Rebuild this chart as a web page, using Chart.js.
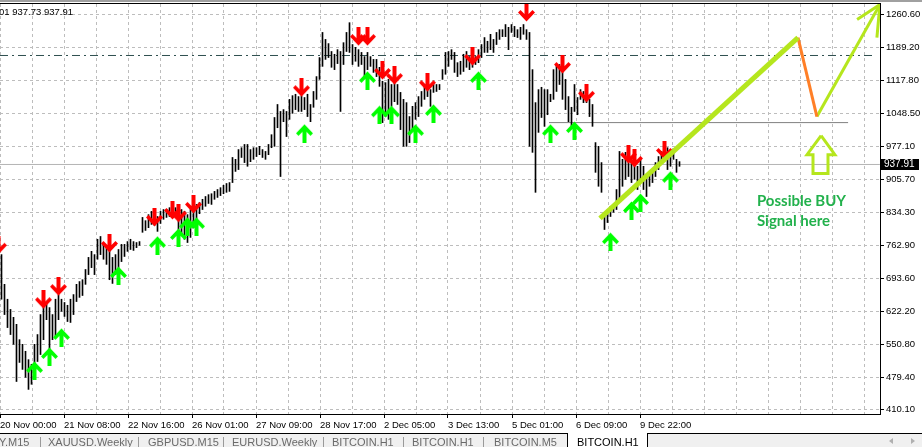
<!DOCTYPE html>
<html>
<head>
<meta charset="utf-8">
<script src="https://cdn.jsdelivr.net/npm/chart.js@4.4.0/dist/chart.umd.min.js"></script>
<style>
  html, body { margin: 0; padding: 0; background: #fff; }
  #wrap { width: 922px; height: 447px; }
</style>
</head>
<body>
<div id="wrap"><canvas id="chart" width="922" height="447"></canvas></div>
<script>
// BITCOIN,H1 bars (price high / low per bar, left to right)
const highs = [
  744, 680, 648, 626, 609, 594, 561, 551, 536, 518,
  508, 551, 572, 615, 637, 641, 630, 615, 648, 658,
  648, 641, 635, 648, 658, 680, 686, 690, 712, 738,
  751, 744, 777, 783, 766, 764, 755, 738, 744, 755,
  766, 766, 772, 777, 772, 770, 772, 824, 817, 830,
  837, 832, 826, 837, 841, 841, 845, 841, 845, 852,
  841, 837, 830, 841, 845, 852, 856, 863, 869, 873,
  875, 880, 884, 888, 893, 897, 899, 953, 949, 970,
  974, 981, 981, 970, 974, 974, 977, 970, 966, 981,
  1002, 1039, 1067, 1052, 1056, 1052, 1078, 1086, 1089, 1084,
  1086, 1082, 1089, 1067, 1095, 1127, 1168, 1222, 1207, 1198,
  1181, 1175, 1185, 1181, 1200, 1222, 1243, 1196, 1190, 1185,
  1179, 1170, 1179, 1170, 1164, 1164, 1147, 1117, 1114, 1121,
  1110, 1117, 1110, 1093, 1078, 1071, 1041, 1063, 1071, 1084,
  1095, 1110, 1110, 1099, 1110, 1110, 1110, 1142, 1179, 1181,
  1185, 1179, 1157, 1160, 1175, 1181, 1170, 1164, 1170, 1185,
  1196, 1211, 1203, 1218, 1207, 1222, 1228, 1228, 1239, 1233,
  1239, 1235, 1228, 1233, 1239, 1228, 1222, 1142, 1071, 1099,
  1104, 1099, 1099, 1089, 1142, 1153, 1153, 1147, 1121, 1084,
  1061, 1110, 1082, 1099, 1095, 1093, 1078, 1067, 985, 977,
  942, 835, 830, 848, 852, 884, 966, 949, 964, 955,
  949, 942, 934, 949, 934, 912, 921, 927, 942, 955,
  966, 977, 974, 964, 970, 949, 944
];
const lows = [
  648, 615, 587, 572, 551, 471, 512, 497, 480, 454,
  465, 486, 514, 529, 561, 604, 540, 561, 566, 604,
  622, 611, 600, 598, 615, 643, 652, 656, 680, 701,
  716, 701, 734, 744, 734, 723, 690, 682, 701, 716,
  729, 740, 751, 755, 753, 759, 764, 792, 796, 802,
  809, 807, 794, 811, 820, 824, 826, 830, 828, 798,
  787, 777, 770, 781, 802, 820, 832, 841, 848, 854,
  852, 863, 867, 871, 875, 878, 880, 899, 923, 927,
  953, 942, 934, 944, 949, 955, 959, 953, 949, 959,
  974, 977, 1017, 912, 1030, 998, 1035, 1048, 1056, 1052,
  1052, 1056, 1041, 1030, 1061, 1078, 1121, 1149, 1164, 1168,
  1147, 1142, 1155, 1052, 1153, 1181, 1179, 1153, 1160, 1149,
  1153, 1125, 1142, 1149, 1136, 1127, 1106, 1028, 1041, 1035,
  1063, 1073, 1067, 1013, 977, 977, 985, 1013, 1035, 1041,
  1063, 1078, 1084, 1063, 1093, 1095, 1099, 1121, 1132, 1149,
  1164, 1136, 1127, 1132, 1138, 1147, 1142, 1147, 1153, 1157,
  1168, 1179, 1179, 1185, 1179, 1196, 1207, 1213, 1213, 1185,
  1222, 1213, 1211, 1207, 1218, 1207, 977, 964, 878, 1007,
  1039, 1020, 1045, 1073, 1078, 1095, 1110, 1078, 1056, 1030,
  1020, 1052, 1045, 1078, 1071, 1071, 1041, 1020, 921, 891,
  878, 798, 813, 826, 835, 841, 863, 891, 906, 912,
  899, 906, 884, 906, 884, 869, 891, 899, 912, 927,
  942, 949, 927, 934, 949, 921, 934
];

// signal arrows: bar index and price of the arrow centre
const sellBars = [-1, 14, 19, 36, 51, 57, 59, 64, 100, 119, 122, 127, 131, 142, 157, 175, 187, 195, 209, 211, 221];
const sellPrices = [764, 647, 675, 768, 824, 839, 833, 852, 1103, 1213, 1213, 1140, 1129, 1114, 1170, 1265, 1153, 1091, 959, 951, 968];
const buyBars = [11, 16, 20, 39, 52, 59, 62, 65, 101, 122, 126, 130, 138, 144, 159, 183, 191, 203, 210, 213, 223];
const buyPrices = [495, 525, 566, 699, 764, 781, 805, 805, 1005, 1119, 1045, 1045, 1005, 1048, 1119, 1005, 1011, 772, 839, 856, 904];

// axes
const timeLabels = ['20 Nov 00:00', '21 Nov 08:00', '22 Nov 16:00', '26 Nov 01:00', '27 Nov 09:00', '28 Nov 17:00',
  '2 Dec 05:00', '3 Dec 13:00', '5 Dec 01:00', '6 Dec 09:00', '9 Dec 22:00'];
const priceTicks = [410.10, 479.40, 550.80, 622.20, 693.60, 762.90, 834.30, 905.70, 977.10, 1048.50, 1117.80, 1189.20, 1260.60];
const barsPerGrid = 32 / 3;
const lastPrice = 937.91;

// drawn objects
const resistanceLevel = 1172.4;
const supportLevel = 1028;
const supportFrom = 182.5, supportTo = 282.2;
const trendX = [199.5, 265.5], trendY = [822, 1211];
const pullX = [265.5, 271.8], pullY = [1211, 1041];
const rallyX = [271.8, 292.8], rallyY = [1041, 1282];
const headX = [285.2, 292.8, 291.8], headY = [1250, 1282, 1211];
const hintX = [273.2, 277.8, 275.5, 275.5, 270.5, 270.5, 268.5, 273.2];
const hintY = [1000, 959, 959, 918.5, 918.5, 959, 959, 1000];
const noteLines = ['Possible BUY', 'Signal here'];
const noteX = 251.8, noteY = [848, 805];

const tabs = ['Y.M15', 'XAUUSD.Weekly', 'GBPUSD.M15', 'EURUSD.Weekly', 'BITCOIN.H1', 'BITCOIN.H1', 'BITCOIN.M5'];
const tabX = [-1, 48, 148, 232, 332, 412, 494];
const tabSep = [40, 138, 223, 323, 403, 483];

const LIME = '#b5e61d';
const AXIS_FONT = '"Liberation Sans", Arial, sans-serif';

function makeArrow(color, down) {
    const c = document.createElement('canvas');
    c.width = 17; c.height = 19;
    const g = c.getContext('2d');
    const pts = [[6.5, 0], [10.5, 0], [10.5, 11], [14.5, 7], [17, 9.5], [8.5, 18.5], [0, 9.5], [2.5, 7], [6.5, 11]];
    g.beginPath();
    pts.forEach(([x, y], k) => {
        const yy = down ? y : 19 - y;
        if (k) g.lineTo(x, yy); else g.moveTo(x, yy);
    });
    g.closePath();
    g.fillStyle = color;
    g.fill();
    return c;
}

const xy = (xs, ys) => xs.map((x, i) => ({ x: x, y: ys[i] }));

const xGrid = [];
for (let k = 0; k <= 27; k++) xGrid.push(k * barsPerGrid - 0.5);

const lineSet = (data, color, width, order, extra) => Object.assign({
    type: 'line', data: data, borderColor: color, borderWidth: width,
    pointRadius: 0, fill: false, tension: 0, order: order
}, extra || {});

const mt4Frame = {
    id: 'mt4Frame',
    beforeDraw(chart) {
        const ctx = chart.ctx;
        ctx.save();
        ctx.fillStyle = '#fff';
        ctx.fillRect(0, 0, chart.width, chart.height);
        ctx.restore();
    },
    afterDatasetsDraw(chart) {
        const ctx = chart.ctx, sx = chart.scales.x, sy = chart.scales.y;
        ctx.save();
        ctx.fillStyle = '#22b14c';
        ctx.font = 'bold 15px Lato';
        ctx.textBaseline = 'alphabetic';
        noteLines.forEach((t, i) => ctx.fillText(t, sx.getPixelForValue(noteX), sy.getPixelForValue(noteY[i])));
        ctx.restore();
    },
    afterDraw(chart) {
        const ctx = chart.ctx, sy = chart.scales.y, area = chart.chartArea;
        ctx.save();
        // window top edge
        ctx.fillStyle = '#a0a0a0';
        ctx.fillRect(0, 0, chart.width, 2);
        ctx.fillStyle = '#000';
        ctx.fillRect(0, 3, area.right + 1, 1);
        // header text
        ctx.font = '9.5px ' + AXIS_FONT;
        ctx.textBaseline = 'alphabetic';
        ctx.fillText('01 937.73 937.91', -1, 15);
        // last price tag
        const py = Math.floor(sy.getPixelForValue(lastPrice));
        ctx.fillRect(area.right + 1, py - 5, 38, 11);
        ctx.fillStyle = '#fff';
        ctx.font = '10px ' + AXIS_FONT;
        ctx.textBaseline = 'middle';
        ctx.fillText(lastPrice.toFixed(2), area.right + 4, py + 0.5);
        // tab strip
        const ty = 433;
        ctx.fillStyle = '#f0f0f0';
        ctx.fillRect(0, ty, chart.width, chart.height - ty);
        ctx.fillStyle = '#000';
        ctx.fillRect(0, ty, 567, 1);
        ctx.fillRect(647, ty, chart.width - 647, 1);
        ctx.fillStyle = '#fff';
        ctx.fillRect(567, ty, 80, chart.height - ty);
        ctx.fillStyle = '#000';
        ctx.fillRect(567, ty, 1, chart.height - ty);
        ctx.fillRect(647, ty, 1, chart.height - ty);
        ctx.font = '11px ' + AXIS_FONT;
        ctx.textBaseline = 'alphabetic';
        ctx.fillStyle = '#6a6a6a';
        tabs.forEach((t, i) => ctx.fillText(t, tabX[i], 446));
        ctx.fillStyle = '#9a9a9a';
        tabSep.forEach(x => ctx.fillRect(x, 437, 1, 10));
        ctx.fillStyle = '#000';
        ctx.fillText('BITCOIN.H1', 577, 446);
        // scroll arrows
        ctx.fillStyle = '#b0b0b0';
        ctx.beginPath();
        ctx.moveTo(889, 441); ctx.lineTo(893, 438); ctx.lineTo(893, 444); ctx.closePath();
        ctx.moveTo(915, 441); ctx.lineTo(911, 438); ctx.lineTo(911, 444); ctx.closePath();
        ctx.fill();
        ctx.restore();
    }
};

const chart = new Chart(document.getElementById('chart'), {
    type: 'bar',
    data: {
        datasets: [
            lineSet(xy([-0.5, 292.8], [lastPrice, lastPrice]), '#b4b4b4', 1, 9),
            lineSet(xy([-0.5, 290.5], [resistanceLevel, resistanceLevel]), '#2f4f4f', 1, 8, { borderDash: [8, 4, 2, 4] }),
            lineSet(xy([supportFrom, supportTo], [supportLevel, supportLevel]), '#808080', 1, 8),
            {
                type: 'bar',
                data: highs.map((h, i) => ({ x: i, y: [lows[i], h] })),
                backgroundColor: '#000',
                borderWidth: 0,
                barThickness: 1,
                grouped: false,
                order: 6
            },
            {
                type: 'scatter',
                data: xy(sellBars, sellPrices),
                pointStyle: makeArrow('#ff0000', true),
                pointRadius: 9,
                order: 4
            },
            {
                type: 'scatter',
                data: xy(buyBars, buyPrices),
                pointStyle: makeArrow('#00ff00', false),
                pointRadius: 9,
                order: 4
            },
            lineSet(xy(trendX, trendY), LIME, 5, 2),
            lineSet(xy(pullX, pullY), '#ff7f27', 3, 2),
            lineSet(xy(rallyX, rallyY), LIME, 3, 2),
            lineSet(xy(headX, headY), LIME, 3, 2),
            lineSet(xy(hintX, hintY), LIME, 3, 2)
        ]
    },
    options: {
        responsive: false,
        devicePixelRatio: 1,
        animation: false,
        events: [],
        layout: { autoPadding: false, padding: { top: 4, bottom: 14, left: 0, right: 0 } },
        plugins: { legend: { display: false }, tooltip: { enabled: false } },
        scales: {
            x: {
                type: 'linear',
                min: -0.5,
                max: 880 / 3 - 0.5,
                offset: false,
                afterBuildTicks: s => { s.ticks = xGrid.map(v => ({ value: v })); },
                afterFit: s => { s.height = 19; s.paddingLeft = 0; s.paddingRight = 0; },
                grid: {
                    offset: false,
                    color: '#bdbdbd',
                    tickLength: 4,
                    tickColor: c => (c.index % 2 === 0 && c.index / 2 < timeLabels.length) ? '#000' : 'rgba(0,0,0,0)'
                },
                border: { color: '#000', dash: [3, 3] },
                ticks: {
                    autoSkip: false,
                    maxRotation: 0,
                    align: 'start',
                    padding: 2,
                    color: '#000',
                    font: { family: AXIS_FONT, size: 9.5 },
                    callback: (v, i) => (i % 2 === 0 && i / 2 < timeLabels.length) ? timeLabels[i / 2] : ''
                }
            },
            y: {
                type: 'linear',
                position: 'right',
                min: 401.06,
                max: 1283.19,
                beginAtZero: false,
                afterBuildTicks: s => { s.ticks = priceTicks.map(v => ({ value: v })); },
                afterFit: s => { s.width = 42; s.paddingTop = 0; s.paddingBottom = 0; },
                grid: { color: '#bdbdbd', tickLength: 4, tickColor: '#000' },
                border: { color: '#000', dash: [3, 3] },
                ticks: {
                    padding: 2,
                    color: '#000',
                    font: { family: AXIS_FONT, size: 9.5 },
                    callback: v => Number(v).toFixed(2)
                }
            }
        }
    },
    plugins: [mt4Frame]
});
</script>
</body>
</html>
